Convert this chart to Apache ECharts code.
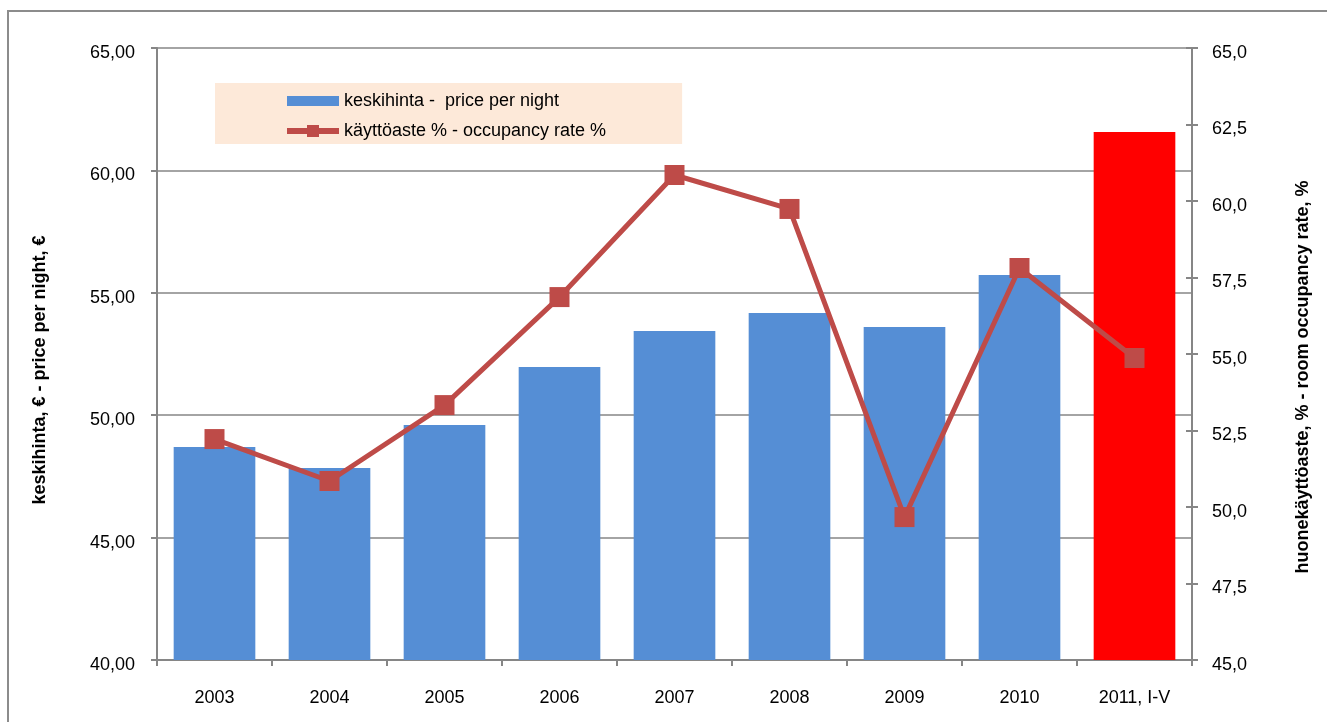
<!DOCTYPE html>
<html>
<head>
<meta charset="utf-8">
<script src="https://cdn.jsdelivr.net/npm/echarts@6/dist/echarts.min.js"></script>
<style>
html,body{margin:0;padding:0;background:#fff;}
#chart{width:1327px;height:722px;}
</style>
</head>
<body>
<div id="chart"></div>
<script>
const categories = ['2003','2004','2005','2006','2007','2008','2009','2010','2011, I-V'];
const priceValues = [48.70, 47.84, 49.60, 51.97, 53.44, 54.17, 53.60, 55.73, 61.57];
const occupancyValues = [52.22, 50.85, 53.33, 56.86, 60.85, 59.74, 49.67, 57.81, 54.87];
const leftTicks = {min: 40, max: 65, interval: 5};
const rightTicks = {min: 45, max: 65, interval: 2.5};
const highlightIndex = 8;

const priceName = 'keskihinta -  price per night';
const occName = 'käyttöaste % - occupancy rate %';
const font = 'Liberation Sans, Arial, sans-serif';
const gray = '#868686';

const chart = echarts.init(document.getElementById('chart'));
chart.setOption({
  animation: false,
  textStyle: {fontFamily: font},
  graphic: [{
    type: 'rect',
    shape: {x: 8, y: 11, width: 1340, height: 740},
    style: {fill: 'none', stroke: '#8c8c8c', lineWidth: 2},
    silent: true
  }],
  grid: {left: 157, right: 135, top: 48, bottom: 62, containLabel: false},
  legend: {
    left: 215, top: 83,
    orient: 'vertical',
    backgroundColor: '#FDE9D9',
    padding: [9, 76, 4, 69],
    itemGap: 12,
    itemWidth: 52,
    itemHeight: 15,
    textStyle: {fontSize: 18, color: '#000', fontFamily: font},
    data: [
      {name: priceName, icon: 'path://M0,0h52v10h-52z'},
      {name: occName, lineStyle: {width: 6}}
    ]
  },
  xAxis: {
    type: 'category',
    data: categories,
    axisLine: {lineStyle: {color: gray, width: 2}},
    axisTick: {show: true, length: 6, lineStyle: {color: gray, width: 2}},
    axisLabel: {fontSize: 18, color: '#000', margin: 29}
  },
  yAxis: [{
    type: 'value',
    min: leftTicks.min, max: leftTicks.max, interval: leftTicks.interval,
    position: 'left',
    name: 'keskihinta, € - price per night, €',
    nameLocation: 'middle',
    nameGap: 108,
    nameTextStyle: {fontSize: 18, fontWeight: 'bold', color: '#000', padding: [0, 32, 0, 0]},
    axisLine: {show: true, lineStyle: {color: gray, width: 2}},
    axisTick: {show: true, length: 6, lineStyle: {color: gray, width: 2}},
    splitLine: {show: true, lineStyle: {color: gray, width: 1.5}},
    axisLabel: {fontSize: 18, color: '#000', margin: 22, verticalAlign: 'top', lineHeight: 10,
      formatter: v => v.toFixed(2).replace('.', ',')}
  }, {
    type: 'value',
    min: rightTicks.min, max: rightTicks.max, interval: rightTicks.interval,
    position: 'right',
    name: 'huonekäyttöaste, % - room occupancy rate, %',
    nameLocation: 'middle',
    nameGap: 102,
    nameRotate: 90,
    nameTextStyle: {fontSize: 18, fontWeight: 'bold', color: '#000', padding: [0, 46, 0, 0]},
    axisLine: {show: true, lineStyle: {color: gray, width: 2}},
    axisTick: {show: true, length: 6, lineStyle: {color: gray, width: 2}},
    splitLine: {show: false},
    axisLabel: {fontSize: 18, color: '#000', margin: 20, verticalAlign: 'top', lineHeight: 10,
      formatter: v => v.toFixed(1).replace('.', ',')}
  }, {
    type: 'value',
    min: rightTicks.min, max: rightTicks.max, interval: rightTicks.interval,
    position: 'right',
    axisLine: {show: false},
    axisTick: {show: true, inside: true, length: 6, lineStyle: {color: gray, width: 2}},
    splitLine: {show: false},
    axisLabel: {show: false}
  }],
  series: [{
    name: priceName,
    type: 'bar',
    yAxisIndex: 0,
    barCategoryGap: '29%',
    itemStyle: {color: '#558ED5'},
    data: priceValues.map((v, i) => i === highlightIndex ? {value: v, itemStyle: {color: '#FF0000'}} : v)
  }, {
    name: occName,
    type: 'line',
    yAxisIndex: 1,
    z: 5,
    symbol: 'rect',
    symbolSize: 20,
    lineStyle: {color: '#BE4B48', width: 5},
    itemStyle: {color: '#BE4B48'},
    data: occupancyValues
  }]
});
</script>
</body>
</html>
